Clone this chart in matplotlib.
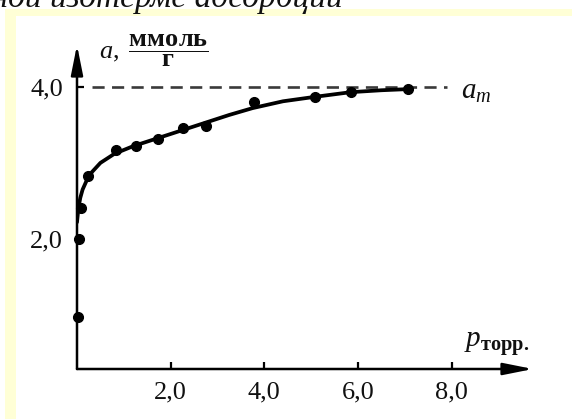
import matplotlib
matplotlib.use("Agg")
import matplotlib.pyplot as plt
from matplotlib.patches import Rectangle

plt.rcParams["mathtext.fontset"] = "custom"
plt.rcParams["mathtext.rm"] = "Liberation Serif"
plt.rcParams["mathtext.it"] = "Liberation Serif:italic"
plt.rcParams["mathtext.bf"] = "Liberation Serif:bold"

# ---- data ----
p_points = [0.02, 0.04, 0.08, 0.24, 0.83, 1.26, 1.72, 2.26, 2.76, 3.77, 5.09, 5.85, 7.07]
a_points = [0.98, 2.00, 2.41, 2.83, 3.17, 3.22, 3.32, 3.46, 3.49, 3.80, 3.86, 3.93, 3.97]

p_curve = [0.0, 0.03, 0.07, 0.12, 0.2, 0.32, 0.5, 0.8, 1.2, 1.7, 2.25, 2.75, 3.25, 3.75, 4.4, 5.1, 5.85, 6.5, 7.07]
a_curve = [2.22, 2.40, 2.54, 2.65, 2.76, 2.88, 3.00, 3.12, 3.22, 3.32, 3.43, 3.53, 3.63, 3.72, 3.81, 3.87, 3.93, 3.955, 3.97]

a_m = 4.0
am_from, am_to = 0.32, 7.9

x_ticks = [2.0, 4.0, 6.0, 8.0]
x_ticklabels = ["2,0", "4,0", "6,0", "8,0"]
y_ticks = [2.0, 4.0]
y_ticklabels = ["2,0", "4,0"]

W, H = 572, 419
fig = plt.figure(figsize=(W / 100, H / 100), dpi=100)
fig.patch.set_facecolor("white")

def fx(px):
    return px / W

def fy(py):
    return (H - py) / H

yellow = "#FFFFD6"
fig.patches.append(Rectangle((fx(5), fy(H)), fx(11), (H - 9) / H, transform=fig.transFigure,
                             facecolor=yellow, edgecolor="none", zorder=0))
fig.patches.append(Rectangle((fx(5), fy(16)), 1 - fx(5), 7 / H, transform=fig.transFigure,
                             facecolor=yellow, edgecolor="none", zorder=0))

serif = ["Liberation Serif", "DejaVu Serif"]
ink = "#111111"

# cut-off caption line at top (as in the scanned page)
fig.text(fx(343), fy(7), "по экспериментальной изотерме адсорбции", ha="right", va="baseline",
         fontsize=24, style="italic", family=serif, color=ink)

ax = fig.add_axes([fx(77), fy(369), (533 - 77) / W, (369 - 45) / H])
ax.set_facecolor("none")
ax.set_xlim(0, 9.74)
ax.set_ylim(0.29, 4.55)
for s in ax.spines.values():
    s.set_visible(False)

# axes with arrows
arrow_kw = dict(arrowstyle="-|>,head_length=1.5,head_width=0.3", lw=1.8, color="black",
                mutation_scale=12, shrinkA=0, shrinkB=0)
ax.annotate("", xy=(1, 0), xytext=(0, 0), xycoords="axes fraction", arrowprops=arrow_kw)
ax.annotate("", xy=(0, 1), xytext=(0, 0), xycoords="axes fraction", arrowprops=arrow_kw)

ax.set_xticks(x_ticks)
ax.set_xticklabels(x_ticklabels)
ax.set_yticks(y_ticks)
ax.set_yticklabels(y_ticklabels)
ax.tick_params(axis="x", direction="in", length=5, width=1.6, pad=9, labelsize=19)
ax.tick_params(axis="y", direction="in", length=5, width=1.6, pad=10, labelsize=19)
for lab in ax.get_xticklabels() + ax.get_yticklabels():
    lab.set_family(serif)
    lab.set_color(ink)

# a_m dashed line
ax.plot([am_from, am_to], [a_m, a_m], color="#3a3a3a", lw=1.9, dashes=(4.6, 2.8), zorder=2)

# fitted curve and points
ax.plot(p_curve, a_curve, color="black", lw=2.7, solid_joinstyle="round",
        solid_capstyle="round", zorder=3)
ax.plot(p_points, a_points, "o", color="black", ms=7, zorder=4, clip_on=False)

# a_m label
fig.text(fx(461), fy(99), r"$a_m$", ha="left", va="baseline", fontsize=21, color=ink)

# y label: a, ммоль / г
fig.text(fx(99), fy(59), r"$a,\ \dfrac{\mathbf{ммоль}}{\mathbf{г}}$", ha="left", va="baseline",
         fontsize=19, color=ink)

# x label: p торр.
fig.text(fx(464), fy(347), r"$p_{\mathbf{торр.}}$", ha="left", va="baseline", fontsize=21,
         color=ink)

fig.savefig("out.png", dpi=100)
